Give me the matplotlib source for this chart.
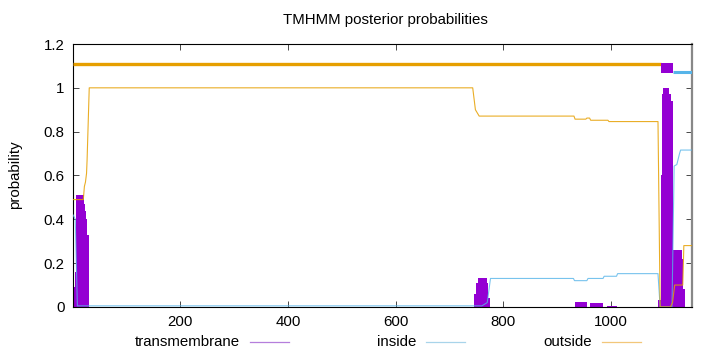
import matplotlib
matplotlib.use("Agg")
import matplotlib.pyplot as plt
from matplotlib.lines import Line2D
from matplotlib.ticker import FuncFormatter

plt.rcParams["font.family"] = ["Liberation Sans", "DejaVu Sans"]

PURPLE = "#9400D3"
BLUE = "#56B4E9"
ORANGE = "#E69F00"
FS = 10.8

# sequence length
seq_len = 1150

# posterior probability: outside (orange)
out_pos = [1, 20, 22, 24, 26, 27, 31, 743, 748, 755, 931, 933, 953, 955, 960, 962,
           994, 996, 1087, 1091, 1110, 1114, 1118, 1133, 1135, 1150]
out_prob = [0.49, 0.49, 0.55, 0.57, 0.61, 0.67, 1.0, 1.0, 0.90, 0.871, 0.871, 0.857,
            0.857, 0.862, 0.862, 0.852, 0.852, 0.846, 0.846, 0.0, 0.0, 0.02, 0.10,
            0.10, 0.28, 0.28]

# posterior probability: inside (blue)
in_pos = [1, 5, 9, 760, 770, 776, 930, 932, 955, 957, 985, 987, 1010, 1012, 1087,
          1091, 1113, 1117, 1122, 1127, 1129, 1150]
in_prob = [0.42, 0.40, 0.005, 0.005, 0.02, 0.13, 0.13, 0.12, 0.12, 0.13, 0.13, 0.14,
           0.14, 0.152, 0.152, 0.0, 0.0, 0.643, 0.65, 0.70, 0.716, 0.716]

# posterior probability: transmembrane (purple impulses), as residue segments
tm_start = [1, 5, 7, 21, 23, 25, 27, 746, 749, 752, 769, 772, 933, 961, 992,
            1087, 1092, 1094, 1097, 1108, 1111, 1115, 1131, 1134]
tm_end = [5, 7, 21, 23, 25, 27, 30, 749, 752, 769, 772, 776, 955, 985, 1010,
          1092, 1094, 1097, 1108, 1111, 1115, 1131, 1134, 1137]
tm_prob = [0.09, 0.16, 0.51, 0.47, 0.44, 0.40, 0.33, 0.06, 0.11, 0.134, 0.11, 0.04,
           0.024, 0.016, 0.006, 0.03, 0.6, 0.97, 1.0, 0.97, 0.94, 0.26, 0.22, 0.08]

# predicted topology drawn above the curves
topo_start = [1, 1093, 1115]
topo_end = [1093, 1115, 1150]
topo_kind = ["outside", "TM", "inside"]


def main():
    fig = plt.figure(figsize=(7.2, 3.52), dpi=100, facecolor="white")
    ax = fig.add_axes([0.1015, 0.128, 0.8595, 0.747])

    widths = [e - s for s, e in zip(tm_start, tm_end)]
    ax.bar(tm_start, tm_prob, width=widths, align="edge", color=PURPLE,
           linewidth=0, zorder=2)
    ax.plot(in_pos, in_prob, color=BLUE, lw=0.8, alpha=0.8, zorder=3)
    ax.plot(out_pos, out_prob, color=ORANGE, lw=0.8, alpha=0.85, zorder=3)

    # topology bar
    for s, e, k in zip(topo_start, topo_end, topo_kind):
        if k == "outside":
            ax.plot([s, e], [1.11, 1.11], color=ORANGE, lw=2.4, solid_capstyle="butt", zorder=4)
        elif k == "inside":
            ax.plot([s, e], [1.07, 1.07], color=BLUE, lw=2.2, solid_capstyle="butt", zorder=4)
        else:
            ax.bar(s, 0.046, bottom=1.067, width=e - s, align="edge", color=PURPLE,
                   linewidth=0, zorder=4)

    ax.set_xlim(1, seq_len)
    ax.set_ylim(0, 1.2)
    ax.set_xticks([200, 400, 600, 800, 1000])
    ax.set_yticks([0, 0.2, 0.4, 0.6, 0.8, 1.0, 1.2])
    ax.yaxis.set_major_formatter(FuncFormatter(lambda v, p: f"{v:g}"))
    ax.tick_params(direction="in", top=True, right=True, length=4, width=0.5,
                   labelsize=FS, pad=6, colors="black")
    for side in ["left", "top", "bottom"]:
        ax.spines[side].set_linewidth(0.8)
    ax.spines["right"].set_color("#888888")
    ax.spines["right"].set_linewidth(1.6)

    fig.text(385 / 720, 1 - 20 / 352, "TMHMM posterior probabilities",
             ha="center", va="center", fontsize=FS)
    fig.text(15 / 720, 1 - 175 / 352, "probability", rotation=90,
             ha="center", va="center", fontsize=FS)

    # legend along the bottom (text then sample line)
    leg_y = 1 - 342 / 352
    leg_items = [("transmembrane", "#B57EDC", 240, 250, 289),
                 ("inside", "#A8D4EA", 416, 426, 465),
                 ("outside", "#F2C77A", 592, 602, 641)]
    for label, c, tx, x0, x1 in leg_items:
        fig.text(tx / 720, leg_y, label, ha="right", va="center", fontsize=FS)
        fig.add_artist(Line2D([x0 / 720, x1 / 720], [leg_y, leg_y], color=c, lw=0.9,
                              transform=fig.transFigure))

    fig.savefig("out.png", dpi=100, facecolor="white")
    plt.close(fig)


if __name__ == "__main__":
    main()
